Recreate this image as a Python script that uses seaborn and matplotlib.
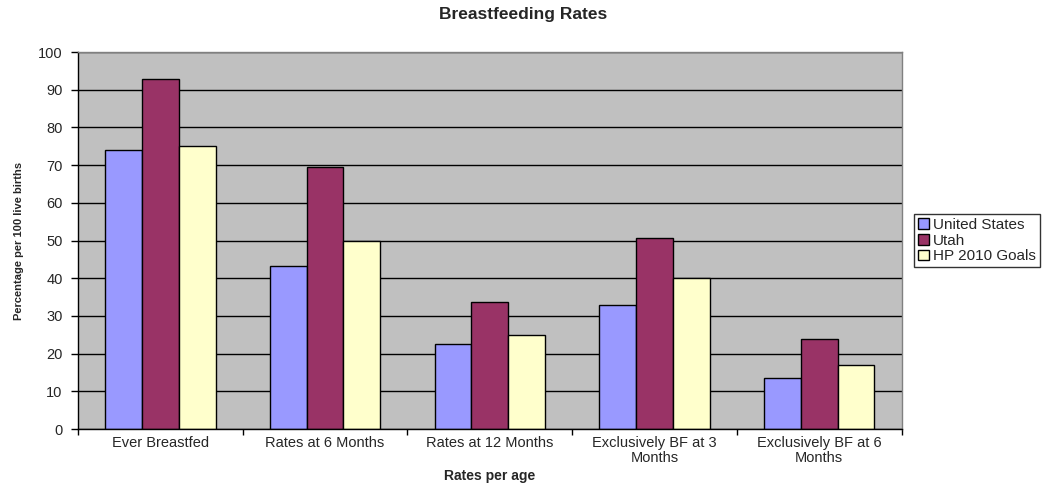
import pandas as pd
import seaborn as sns
import matplotlib
matplotlib.use("Agg")
import matplotlib.pyplot as plt
from matplotlib.ticker import FixedLocator

categories = ["Ever Breastfed", "Rates at 6 Months", "Rates at 12 Months",
              "Exclusively BF at 3\nMonths", "Exclusively BF at 6\nMonths"]
us_values = [74.0, 43.3, 22.6, 33.0, 13.5]
utah_values = [92.8, 69.5, 33.8, 50.7, 23.9]
goal_values = [75, 50, 25, 40, 17]
series_names = ["United States", "Utah", "HP 2010 Goals"]
colors = {"United States": "#9999FF", "Utah": "#993366", "HP 2010 Goals": "#FFFFCC"}


def build_frame():
    rows = []
    for name, vals in zip(series_names, [us_values, utah_values, goal_values]):
        for cat, v in zip(categories, vals):
            rows.append({"Category": cat, "Series": name, "Value": v})
    return pd.DataFrame(rows)


def main():
    sns.set_theme(style="white")
    plt.rcParams["font.family"] = ["Liberation Sans", "DejaVu Sans"]

    df = build_frame()
    fig = plt.figure(figsize=(10.52, 4.87), dpi=100)
    ax = fig.add_axes([0.0741, 0.119, 0.783, 0.774])
    ax.set_facecolor("#C0C0C0")

    sns.barplot(data=df, x="Category", y="Value", hue="Series", order=categories,
                hue_order=series_names, palette=colors, edgecolor="black",
                linewidth=1, width=0.67, gap=0, ax=ax, saturation=1)

    ax.set_ylim(0, 100)
    ax.set_xlim(-0.5, len(categories) - 0.5)
    ax.set_yticks(range(0, 101, 10))
    ax.yaxis.grid(True, color="black", linewidth=1)
    ax.set_axisbelow(True)

    ax.tick_params(axis="y", direction="out", length=5, width=1, color="black",
                   labelsize=10.5, pad=6, left=True)
    ax.tick_params(axis="x", which="major", length=0, labelsize=10.5, pad=5)
    for lbl in ax.get_xticklabels():
        lbl.set_linespacing(1.05)
    ax.xaxis.set_minor_locator(FixedLocator([i - 0.5 for i in range(len(categories) + 1)]))
    ax.tick_params(axis="x", which="minor", direction="out", length=4, width=1,
                   color="black", bottom=True)

    for side in ["left", "bottom"]:
        ax.spines[side].set_color("black")
        ax.spines[side].set_linewidth(1)
    for side in ["top", "right"]:
        ax.spines[side].set_color("#808080")
        ax.spines[side].set_linewidth(1)

    ax.set_xlabel("Rates per age", fontsize=10, fontweight="bold", labelpad=3)
    ax.set_ylabel("Percentage per 100 live births", fontsize=8, fontweight="bold", labelpad=10)
    fig.suptitle("Breastfeeding Rates", fontsize=12.5, fontweight="bold", y=0.985, x=0.497)

    leg = ax.legend(loc="center left", bbox_to_anchor=(1.015, 0.5), frameon=True,
                    fancybox=False, edgecolor="black", fontsize=11, handlelength=0.7,
                    handleheight=0.7, handletextpad=0.3, borderpad=0.25,
                    labelspacing=0.12, borderaxespad=0)
    leg.get_frame().set_linewidth(1)
    for h in leg.legend_handles:
        h.set_edgecolor("black")
        h.set_linewidth(1)

    fig.savefig("out.png", dpi=100)
    plt.close(fig)


if __name__ == "__main__":
    main()
